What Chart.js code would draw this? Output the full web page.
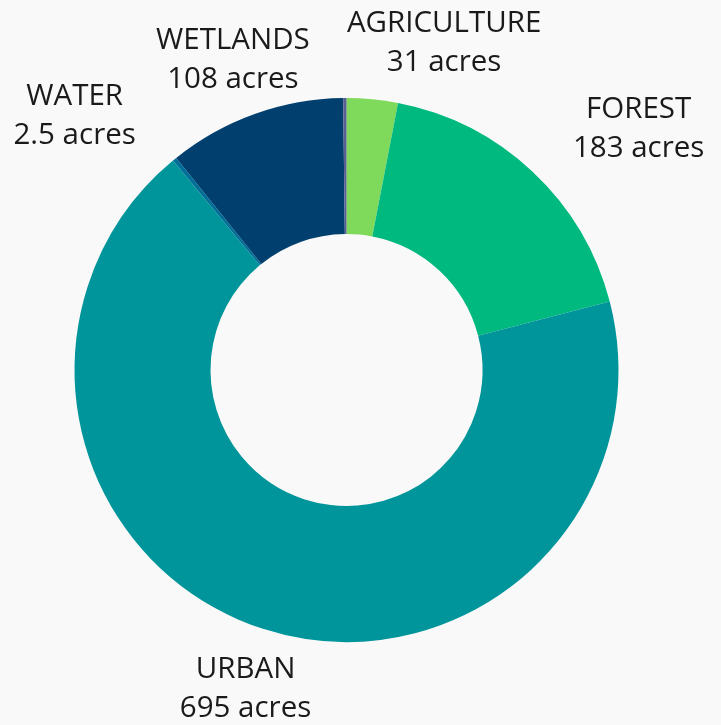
<!DOCTYPE html>
<html>
<head>
<meta charset="utf-8">
<script src="https://cdn.jsdelivr.net/npm/chart.js@4/dist/chart.umd.min.js"></script>
<style>
  html, body { margin: 0; padding: 0; background: #f9f9f9; }
  canvas { display: block; }
</style>
</head>
<body>
<canvas id="c" width="721" height="725"></canvas>
<script>
// ---- data ----
const categories = ['AGRICULTURE', 'FOREST', 'URBAN', 'WATER', 'WETLANDS', 'OTHER'];
const acres = [31, 183, 695, 2.5, 108, 2];
const valueLabels = ['31 acres', '183 acres', '695 acres', '2.5 acres', '108 acres', ''];
const sliceColors = ['#7fd95b', '#00b97f', '#00959a', '#006f98', '#003f6e', '#5a5f92'];

// label placement: nudges from the mid-angle anchor (null = no label)
const labelNudges = [[66, 2.5], [65, 0], [1, 2], [-62, 2], [-1.5, 1.5], null];

const outsideLabels = {
  id: 'outsideLabels',
  afterDatasetsDraw(chart, args, opts) {
    const ctx = chart.ctx;
    const meta = chart.getDatasetMeta(0);
    ctx.save();
    ctx.font = opts.font;
    ctx.fillStyle = opts.color;
    ctx.textAlign = 'center';
    ctx.textBaseline = 'middle';
    meta.data.forEach((arc, i) => {
      const nudge = opts.nudges[i];
      if (!nudge) return;
      const p = arc.getProps(['x', 'y', 'startAngle', 'endAngle', 'outerRadius'], true);
      const mid = (p.startAngle + p.endAngle) / 2;
      const d = p.outerRadius + opts.gap;
      const x = p.x + Math.cos(mid) * d + nudge[0];
      const y = p.y + Math.sin(mid) * d + nudge[1] + opts.shiftY;
      const h = opts.lineHeight / 2;
      ctx.fillText(chart.data.labels[i], x, y - h);
      ctx.fillText(valueLabels[i], x, y + h);
    });
    ctx.restore();
  }
};

new Chart(document.getElementById('c'), {
  type: 'doughnut',
  data: {
    labels: categories,
    datasets: [{
      data: acres,
      backgroundColor: sliceColors,
      borderWidth: 0
    }]
  },
  options: {
    responsive: false,
    animation: false,
    cutout: '50%',
    layout: { padding: { left: 74, right: 102, top: 98, bottom: 83 } },
    plugins: {
      legend: { display: false },
      tooltip: { enabled: false },
      title: { display: false },
      outsideLabels: {
        font: '29.5px "Open Sans", Roboto, sans-serif',
        color: '#1a1a1a',
        gap: 60,
        shiftY: 1.5,
        lineHeight: 39,
        nudges: labelNudges
      }
    }
  },
  plugins: [outsideLabels]
});
</script>
</body>
</html>
